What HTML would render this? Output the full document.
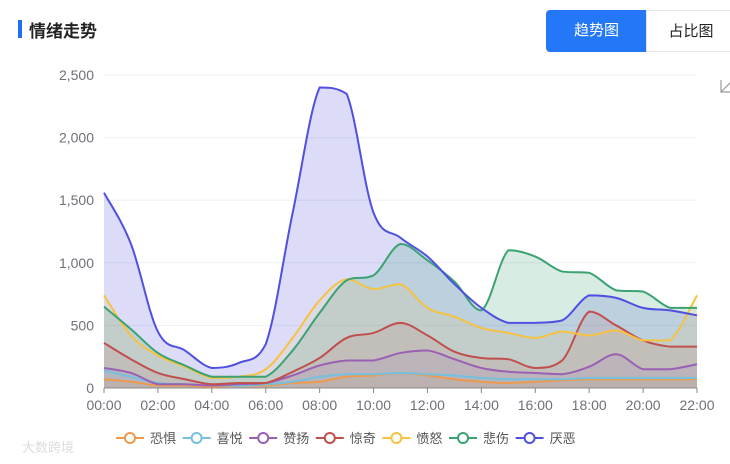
<!DOCTYPE html>
<html><head><meta charset="utf-8"><style>
body{margin:0;width:730px;height:464px;background:#fff;font-family:"Liberation Sans","Noto Sans CJK SC",sans-serif;overflow:hidden;position:relative}
.bar{position:absolute;left:18px;top:20px;width:4px;height:18px;background:#1e6ff5}
.title{position:absolute;left:29px;top:17px;font-size:17px;font-weight:bold;color:#222}
.btn{position:absolute;top:10px;height:42px;line-height:42px;text-align:center;font-size:15px;box-sizing:border-box}
.b1{left:546px;width:101px;background:#2478f8;color:#fff;border-radius:4px 0 0 4px}
.b2{left:646px;width:90px;border:1px solid #e4e4e4;color:#222;background:#fff}
svg{position:absolute;left:0;top:0}
</style></head><body>
<div class="bar"></div>
<div class="title">情绪走势</div>
<div class="btn b1">趋势图</div>
<div class="btn b2">占比图</div>
<svg id="c" width="730" height="464"></svg>
<script>
const hours=["00:00","02:00","04:00","06:00","08:00","10:00","12:00","14:00","16:00","18:00","20:00","22:00"];
const yTicks=[0,500,1000,1500,2000,2500];
const names=["恐惧","喜悦","赞扬","惊奇","愤怒","悲伤","厌恶"];
const colors=["#ee9a4d","#74c0de","#9a60b4","#c0504d","#f5c242","#3ba272","#4f4fe0"];
const fear=[70,50,20,20,10,20,20,40,50,90,100,120,100,70,50,40,50,60,70,70,70,70,70];
const joy=[140,90,40,30,20,20,30,50,90,110,110,120,110,100,80,70,70,70,80,80,80,80,80];
const praise=[160,120,30,30,20,30,40,100,180,220,220,280,300,230,160,130,120,110,170,270,150,150,190];
const surprise=[360,230,120,70,30,40,40,130,240,400,440,520,420,290,240,230,160,220,610,500,380,330,330];
const anger=[740,420,260,170,80,90,150,400,700,870,790,830,640,570,480,440,400,450,420,460,380,380,740];
const sad=[650,470,280,180,90,90,90,300,600,860,900,1150,1020,850,620,1100,1050,930,920,780,770,640,640];
const disgust=[1560,1150,450,300,160,200,350,1400,2400,2350,1400,1200,1050,830,640,520,520,540,740,720,640,620,580];
const series=[fear,joy,praise,surprise,anger,sad,disgust];
const fills=[0.12,0.12,0.12,0.12,0.12,0.2,0.2];
const X0=104,X1=697,Y0=388,Y1=75;
const x=h=>X0+(X1-X0)*h/22;
const y=v=>Y0-(Y0-Y1)*v/2500;
const svg=document.getElementById('c');
const NS="http://www.w3.org/2000/svg";
function mk(t,a){const e=document.createElementNS(NS,t);for(const k in a)e.setAttribute(k,a[k]);svg.appendChild(e);return e;}
yTicks.forEach(v=>{
 const l=mk('line',{x1:X0,x2:X1,y1:y(v),y2:y(v),stroke:v?'#eef0f4':'#888','stroke-width':1});
 
 
 const t=mk('text',{x:94,y:y(v)+5,'text-anchor':'end','font-size':14,fill:'#6e7079'});t.textContent=v.toLocaleString('en-US');
 
 
});
hours.forEach((h,i)=>{
 mk('line',{x1:x(i*2),x2:x(i*2),y1:Y0,y2:Y0+5,stroke:'#888'});
 const t=mk('text',{x:x(i*2),y:410,'text-anchor':'middle','font-size':14,fill:'#6e7079'});t.textContent=h;
 
 
});
function path(d){
 const p=d.map((v,i)=>[x(i),y(v)]);let s=`M${p[0][0]},${p[0][1]}`;
 for(let i=0;i<p.length-1;i++){
  const p0=p[i-1]||p[i],p1=p[i],p2=p[i+1],p3=p[i+2]||p2,k=0.18;
  let c1y=p1[1]+(p2[1]-p0[1])*k,c2y=p2[1]-(p3[1]-p1[1])*k;
  const lo=Math.min(p1[1],p2[1]),hi=Math.max(p1[1],p2[1]);
  c1y=Math.max(lo,Math.min(hi,c1y));c2y=Math.max(lo,Math.min(hi,c2y));
  s+=` C${p1[0]+(p2[0]-p0[0])*k},${c1y} ${p2[0]-(p3[0]-p1[0])*k},${c2y} ${p2[0]},${p2[1]}`;
 }
 return s;
}
for(let i=series.length-1;i>=0;i--){
 const d=path(series[i]);
 const a=mk('path',{d:d+` L${X1},${Y0} L${X0},${Y0} Z`,fill:colors[i],'fill-opacity':fills[i]});
 
 
}
series.forEach((s,i)=>{
 const l=mk('path',{d:path(s),fill:'none',stroke:colors[i],'stroke-width':2});
 
 
});
names.forEach((n,i)=>{
 const cx=130+i*66.6;
 const g=document.createElementNS(NS,'g');svg.appendChild(g);
 
 
 const L=document.createElementNS(NS,'line');L.setAttribute('x1',cx-14);L.setAttribute('x2',cx+14);L.setAttribute('y1',438);L.setAttribute('y2',438);L.setAttribute('stroke',colors[i]);L.setAttribute('stroke-width',2);g.appendChild(L);
 const C=document.createElementNS(NS,'circle');C.setAttribute('cx',cx);C.setAttribute('cy',438);C.setAttribute('r',5);C.setAttribute('fill','#fff');C.setAttribute('stroke',colors[i]);C.setAttribute('stroke-width',2);g.appendChild(C);
 const T=document.createElementNS(NS,'text');T.setAttribute('x',cx+20);T.setAttribute('y',443);T.setAttribute('font-size',13);T.setAttribute('fill','#555');T.textContent=n;g.appendChild(T);
});
const w=mk('text',{x:22,y:452,'font-size':13,fill:'#ddd'});w.textContent='大数跨境';


const ic=mk('path',{d:'M721,80 L721,92 L731,92 M721,92 L731,82',fill:'none',stroke:'#999','stroke-width':1.2});


</script>
</body></html>
